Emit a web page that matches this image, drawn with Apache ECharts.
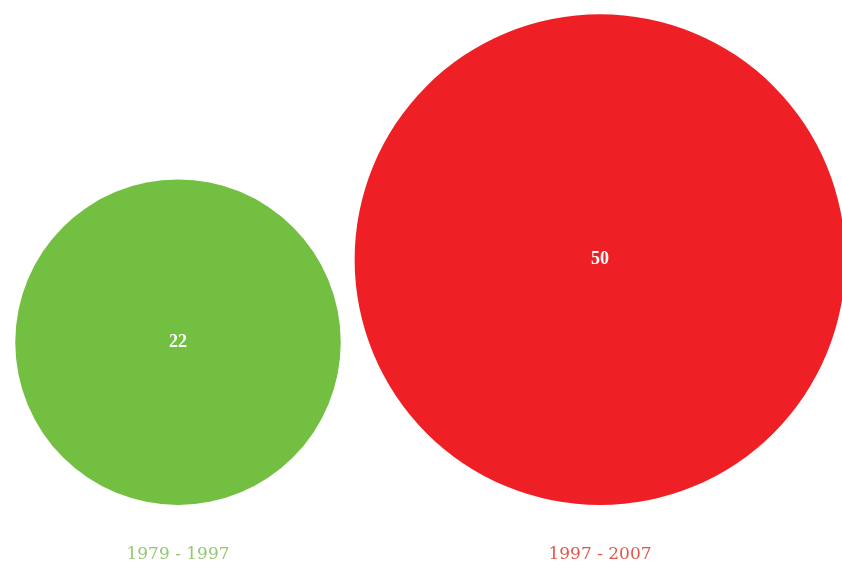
<!DOCTYPE html>
<html>
<head>
<meta charset="utf-8">
<script src="https://cdn.jsdelivr.net/npm/echarts@6/dist/echarts.min.js"></script>
<style>html,body{margin:0;padding:0;background:#fff}#c{width:842px;height:565px}</style>
</head>
<body>
<div id="c"></div>
<script>
var categories = ['1979 - 1997', '1997 - 2007'];
var values = [22, 50];
var fillColors = ['#72bf42', '#ee2026'];
var labelColors = ['#94c872', '#e0584a'];

var chart = echarts.init(document.getElementById('c'));
var K = 69.4; // diameter per sqrt(value), px

chart.setOption({
  backgroundColor: '#ffffff',
  animation: false,
  grid: { left: 178, right: 242, top: 0, bottom: 60 },
  xAxis: {
    type: 'category',
    data: categories,
    boundaryGap: false,
    axisLine: { show: false },
    axisTick: { show: false },
    splitLine: { show: false },
    axisLabel: {
      margin: 41,
      formatter: function (v, i) { return '{c' + i + '|' + v + '}'; },
      rich: {
        c0: { color: labelColors[0], fontFamily: 'DejaVu Serif', fontSize: 17 },
        c1: { color: labelColors[1], fontFamily: 'DejaVu Serif', fontSize: 17 }
      }
    }
  },
  yAxis: { type: 'value', min: 0, max: 1, show: false },
  series: [{
    type: 'custom',
    data: values.map(function (v, i) { return [i, v]; }),
    renderItem: function (params, api) {
      var i = api.value(0);
      var v = api.value(1);
      var p = api.coord([i, 0]);
      var r = K * Math.sqrt(v) / 2;
      return {
        type: 'group',
        children: [{
          type: 'circle',
          shape: { cx: p[0], cy: p[1] - r, r: r },
          style: { fill: fillColors[i] }
        }, {
          type: 'text',
          style: {
            text: String(v),
            x: p[0], y: p[1] - r,
            align: 'center', verticalAlign: 'middle',
            fill: '#ffffff',
            font: 'bold 18px "Liberation Serif"'
          }
        }]
      };
    }
  }]
});
</script>
</body>
</html>
